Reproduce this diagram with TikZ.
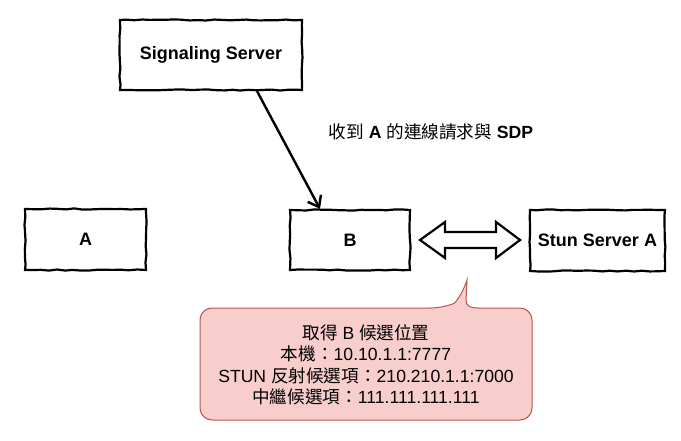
\documentclass[tikz,border=0pt]{standalone}
\usepackage{fontspec}
\setmainfont{Liberation Sans}
\newfontfamily\cjk{Noto Sans CJK TC}
\usetikzlibrary{arrows.meta,decorations.pathmorphing}
\newcommand{\zh}[1]{{\cjk #1}}
\definecolor{calfill}{HTML}{F8CECC}
\definecolor{calline}{HTML}{B85450}
\begin{document}
\begin{tikzpicture}[x=1pt,y=-1pt,
  sketchbox/.style={draw, line width=2.2pt, fill=white, inner sep=0pt,
    decoration={random steps,segment length=8pt,amplitude=0.6pt}, decorate,
    font=\fontsize{18}{21}\selectfont\bfseries},
  conn/.style={line width=2.4pt, -{Straight Barb[length=10pt,width=15pt,line width=2.4pt]}},
  dblarrow/.style={draw, line width=2.2pt, fill=white, line join=miter},
  callout/.style={draw=calline, fill=calfill, line width=1pt}]
\pgfmathsetseed{11}
\useasboundingbox (0,0) rectangle (681,441);
\node[sketchbox, minimum width=182pt, minimum height=70pt] (sig) at (211,55) {Signaling Server};
\node[sketchbox, minimum width=121pt, minimum height=61pt] (a) at (85.5,239.5) {A};
\node[sketchbox, minimum width=120pt, minimum height=60pt] (b) at (350,240) {B};
\node[sketchbox, minimum width=135pt, minimum height=61pt] (stun) at (597.5,240.5) {Stun Server A};
\draw[conn] ([xshift=46pt]sig.south) -- ([xshift=-30pt]b.north);
\node[font=\fontsize{17.6}{20}\selectfont] (lbl) at (431,132) {\zh{收到} \textbf{A} \zh{的連線請求與} \textbf{SDP}};
\draw[dblarrow] (420,240) -- (445,222) -- (445,232) -- (496,232) -- (496,222) -- (520,240)
  -- (496,258) -- (496,248) -- (445,248) -- (445,258) -- cycle;
\draw[callout] (443,308) .. controls (455,303) and (462,295) .. (467,280) -- (466,300)
  .. controls (466,306) and (470,308) .. (478,308)
  [rounded corners=12pt] -- (532,308) -- (532,420) -- (200,420) -- (200,308) -- cycle;
\node[align=center, font=\fontsize{17.6}{21.5}\selectfont] (info) at (366,365) {\zh{取得} B \zh{候選位置}\\
\zh{本機：}10.10.1.1:7777\\
STUN \zh{反射候選項：}210.210.1.1:7000\\
\zh{中繼候選項：}111.111.111.111};
\end{tikzpicture}
\end{document}
